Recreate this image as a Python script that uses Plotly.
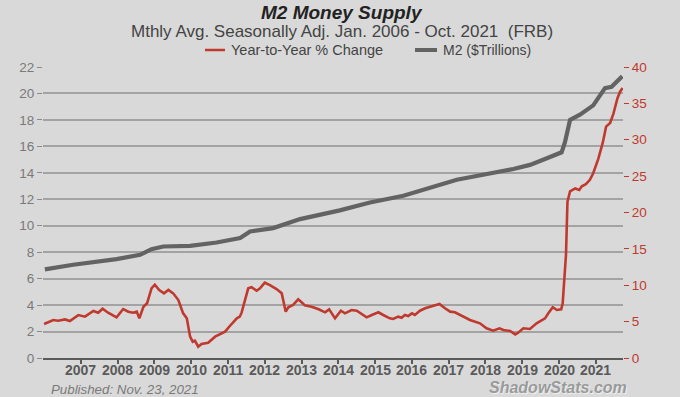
import plotly.graph_objects as go

# ---- data ----
m2_years = [2006.02, 2006.79, 2007.97, 2008.61, 2008.92, 2009.24, 2009.97, 2010.69,
            2011.33, 2011.60, 2012.23, 2012.96, 2014.04, 2014.86, 2015.77, 2017.22,
            2018.76, 2019.21, 2019.67, 2020.07, 2020.16, 2020.30, 2020.57, 2020.93,
            2021.25, 2021.43, 2021.72]
m2_values = [6.70, 7.05, 7.48, 7.80, 8.23, 8.43, 8.48, 8.73,
             9.07, 9.57, 9.82, 10.50, 11.16, 11.76, 12.27, 13.48,
             14.29, 14.60, 15.10, 15.55, 16.30, 18.00, 18.40, 19.10,
             20.40, 20.50, 21.30]

yoy_years = [2006.00, 2006.25, 2006.38, 2006.57, 2006.70, 2006.93, 2007.11, 2007.34,
             2007.47, 2007.59, 2007.74, 2007.97, 2008.15, 2008.29, 2008.42, 2008.52,
             2008.59, 2008.70, 2008.80, 2008.92, 2009.01, 2009.13, 2009.26, 2009.38,
             2009.51, 2009.65, 2009.78, 2009.88, 2009.97, 2010.04, 2010.10, 2010.19,
             2010.28, 2010.46, 2010.65, 2010.83, 2010.92, 2011.05, 2011.24, 2011.32,
             2011.37, 2011.55, 2011.64, 2011.78, 2011.87, 2012.00, 2012.14, 2012.32,
             2012.46, 2012.57, 2012.64, 2012.77, 2012.91, 2013.00, 2013.09, 2013.27,
             2013.45, 2013.64, 2013.75, 2013.91, 2014.07, 2014.18, 2014.36, 2014.50,
             2014.59, 2014.77, 2014.91, 2015.09, 2015.22, 2015.40, 2015.49, 2015.63,
             2015.72, 2015.81, 2015.90, 2016.00, 2016.08, 2016.22, 2016.36, 2016.54,
             2016.63, 2016.75, 2016.90, 2017.04, 2017.17, 2017.35, 2017.58, 2017.85,
             2018.03, 2018.21, 2018.38, 2018.49, 2018.67, 2018.81, 2018.89, 2019.03,
             2019.21, 2019.39, 2019.62, 2019.71, 2019.83, 2019.94, 2020.06, 2020.10,
             2020.14, 2020.19, 2020.23, 2020.30, 2020.44, 2020.55, 2020.62, 2020.73,
             2020.84, 2020.93, 2021.07, 2021.19, 2021.28, 2021.39, 2021.48, 2021.59,
             2021.66, 2021.73]
yoy_values = [4.67, 5.22, 5.13, 5.30, 5.09, 5.90, 5.68, 6.46,
              6.23, 6.78, 6.23, 5.59, 6.73, 6.37, 6.23, 6.37,
              5.45, 7.05, 7.52, 9.58, 10.08, 9.35, 8.89, 9.35,
              8.89, 7.97, 6.14, 5.45, 2.93, 2.24, 2.38, 1.55,
              1.92, 2.10, 2.93, 3.39, 3.62, 4.40, 5.45, 5.68,
              6.23, 9.58, 9.72, 9.25, 9.58, 10.35, 10.03, 9.48,
              8.89, 6.37, 6.97, 7.29, 8.07, 7.66, 7.24, 7.05,
              6.73, 6.28, 6.69, 5.45, 6.50, 6.14, 6.60, 6.50,
              6.23, 5.59, 5.91, 6.28, 5.91, 5.45, 5.36, 5.68,
              5.54, 5.91, 5.77, 6.14, 5.91, 6.50, 6.83, 7.15,
              7.29, 7.42, 6.83, 6.37, 6.28, 5.77, 5.22, 4.77,
              4.08, 3.75, 4.08, 3.85, 3.71, 3.25, 3.48, 4.08,
              3.99, 4.77, 5.45, 6.14, 6.97, 6.60, 6.69, 7.52,
              10.70, 14.20, 21.50, 22.90, 23.30, 23.10, 23.60, 23.90,
              24.50, 25.40, 27.40, 29.60, 31.80, 32.30, 33.60, 35.70,
              36.60, 37.10]

year_ticks = list(range(2007, 2022))
year_labels = [str(y) for y in year_ticks]
left_ticks = list(range(0, 23, 2))
right_ticks = list(range(0, 41, 5))

RED = "#c0392f"
GRAY = "#636363"
BG = "#d9d9d9"
FONT = "Liberation Sans, Arial, sans-serif"

W, H = 680, 397
L, R, T, B = 43, 57, 67, 39


def px(x):
    return (x - L) / (W - L - R)


def py(y):
    return (H - B - y) / (H - T - B)


fig = go.Figure()
fig.add_trace(go.Scatter(x=yoy_years, y=yoy_values, name="Year-to-Year % Change",
                         mode="lines", line=dict(color=RED, width=2.6), yaxis="y2"))
fig.add_trace(go.Scatter(x=m2_years, y=m2_values, name="M2 ($Trillions)",
                         mode="lines", line=dict(color=GRAY, width=4.2), yaxis="y"))

shapes = [
    dict(type="line", xref="paper", yref="paper", x0=px(205), x1=px(225), y0=py(50), y1=py(50),
         line=dict(color=RED, width=2.5)),
    dict(type="line", xref="paper", yref="paper", x0=px(415), x1=px(437), y0=py(50), y1=py(50),
         line=dict(color=GRAY, width=4)),
]

annotations = [
    dict(text="<b><i>M2 Money Supply</i></b>", x=px(342), y=py(12), xref="paper", yref="paper",
         showarrow=False, xanchor="center", yanchor="middle",
         font=dict(family=FONT, size=19, color="#222222")),
    dict(text="Mthly Avg. Seasonally Adj. Jan. 2006 - Oct. 2021  (FRB)", x=px(342), y=py(31),
         xref="paper", yref="paper", showarrow=False, xanchor="center", yanchor="middle",
         font=dict(family=FONT, size=17, color="#444444")),
    dict(text="Year-to-Year % Change", x=px(229), y=py(50), xref="paper", yref="paper",
         showarrow=False, xanchor="left", yanchor="middle",
         font=dict(family=FONT, size=14.5, color="#444444")),
    dict(text="M2 ($Trillions)", x=px(441), y=py(50), xref="paper", yref="paper",
         showarrow=False, xanchor="left", yanchor="middle",
         font=dict(family=FONT, size=14, color="#444444")),
    dict(text="<i>Published: Nov. 23, 2021</i>", x=px(49), y=py(389), xref="paper", yref="paper",
         showarrow=False, xanchor="left", yanchor="middle",
         font=dict(family=FONT, size=13.3, color="#7a7a7a")),
    dict(text="<b><i>ShadowStats.com</i></b>", x=px(629), y=py(387), xref="paper", yref="paper",
         showarrow=False, xanchor="right", yanchor="middle",
         font=dict(family=FONT, size=16, color="#9a9a9a", shadow="1px 1px 1px #f2f2f2")),
]

# year labels under the ticks
for yv, lab in zip(year_ticks, year_labels):
    annotations.append(dict(text=f"<b>{lab}</b>", x=yv, y=py(370), xref="x", yref="paper",
                            showarrow=False, xanchor="center", yanchor="middle",
                            font=dict(family=FONT, size=14, color="#5a5a5a")))

fig.update_layout(
    width=W, height=H,
    margin=dict(l=L, r=R, t=T, b=B, pad=0),
    paper_bgcolor=BG, plot_bgcolor=BG,
    showlegend=False,
    shapes=shapes, annotations=annotations,
    xaxis=dict(range=[2005.97, 2021.74], tickvals=year_ticks, showticklabels=False,
               showgrid=False, zeroline=False, showline=True, linecolor="#5a5a5a", linewidth=2,
               ticks="outside", ticklen=4, tickwidth=2, tickcolor="#5a5a5a"),
    yaxis=dict(range=[0, 22], tickvals=left_ticks, showgrid=True, gridcolor="#a3a3a3",
               gridwidth=1.5, zeroline=False, showline=False,
               ticks="outside", ticklen=5, tickcolor="#8a8a8a", tickwidth=1,
               tickfont=dict(family=FONT, size=13.5, color="#7a7a7a")),
    yaxis2=dict(range=[0, 40], tickvals=right_ticks, overlaying="y", side="right",
                showgrid=False, zeroline=False, showline=False,
                ticks="outside", ticklen=5, tickcolor=RED, tickwidth=1,
                tickfont=dict(family=FONT, size=13.5, color=RED)),
)

fig.write_html(
    "out.html",
    config={"displayModeBar": False},
    post_script="document.body.style.margin='0';document.body.style.background='#d9d9d9';",
)
